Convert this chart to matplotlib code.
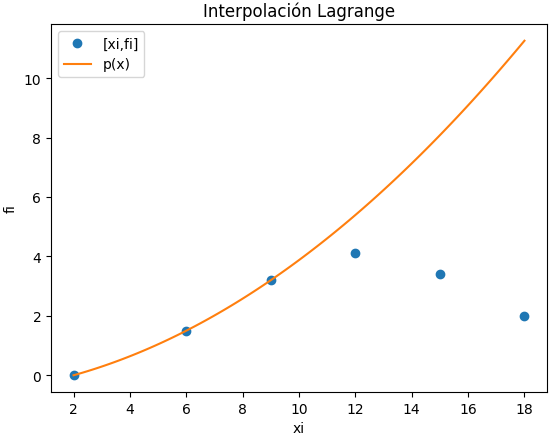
import numpy as np
import matplotlib.pyplot as plt

# Puntos de la tabla
xi = [2, 6, 9, 12, 15, 18]
fi = [0, 1.5, 3.2, 4.1, 3.4, 2.0]

# Puntos usados para el polinomio (los tres primeros)
xp = xi[:3]
fp = fi[:3]


def lagrange(x, xs, fs):
    total = np.zeros_like(x, dtype=float)
    for i in range(len(xs)):
        termino = np.ones_like(x, dtype=float)
        for j in range(len(xs)):
            if i != j:
                termino *= (x - xs[j]) / (xs[i] - xs[j])
        total += fs[i] * termino
    return total


pxi = np.linspace(min(xi), max(xi), 101)
pfi = lagrange(pxi, xp, fp)

W, H = 554, 435
fig = plt.figure(figsize=(W / 100, H / 100), dpi=100)
ax = fig.add_axes([51 / W, (H - 393) / H, 496 / W, 368 / H])
ax.plot(xi, fi, 'o', label='[xi,fi]')
ax.plot(pxi, pfi, label='p(x)')
ax.legend()
ax.set_xlabel('xi')
ax.set_ylabel('fi')
ax.set_title('Interpolación Lagrange')
fig.savefig('out.png', dpi=100)
